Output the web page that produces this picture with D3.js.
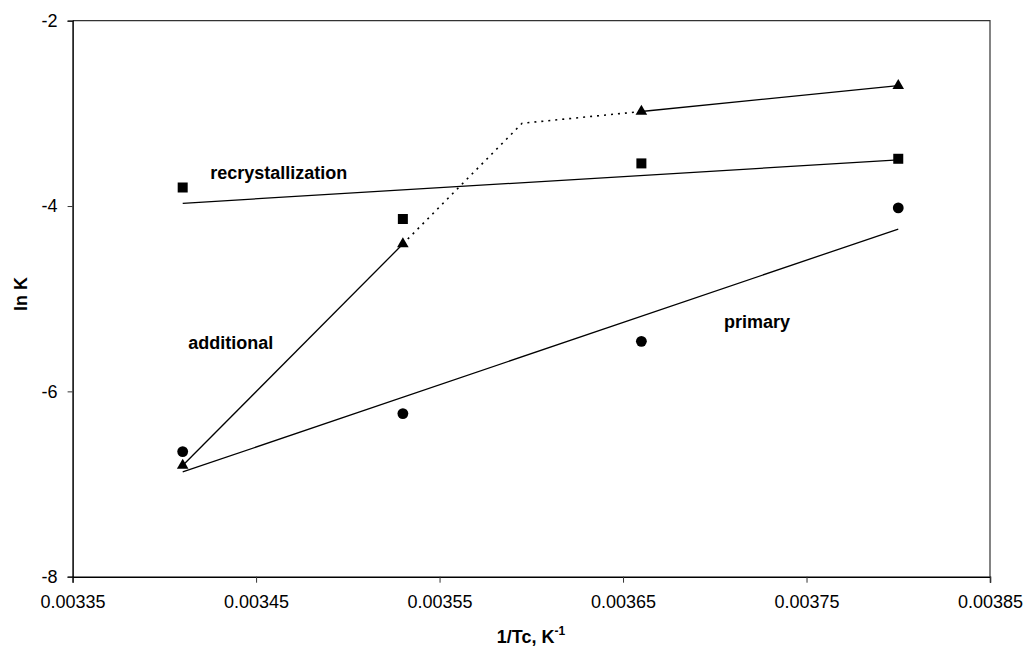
<!DOCTYPE html>
<html>
<head>
<meta charset="utf-8">
<script src="https://cdn.jsdelivr.net/npm/d3@7"></script>
<style>
  html, body { margin: 0; padding: 0; background: #fff; }
  svg { display: block; font-family: "Liberation Sans", Arial, sans-serif; }
</style>
</head>
<body>
<svg id="chart" width="1025" height="648"></svg>
<script>
// Reciprocal crystallisation temperature (1/Tc, K^-1)
const invTc = [0.00341, 0.00353, 0.00366, 0.00380];

// ln K for each crystallisation stage
const primary = [-6.65, -6.24, -5.46, -4.02];          // circles
const recrystallization = [-3.80, -4.14, -3.54, -3.49]; // squares
const additional = [-6.80, -4.41, -2.98, -2.70];        // triangles

// Hand-drawn guide through the "additional" points: solid, dotted bend, solid
const additionalSolidA = [[0.00341, -6.80], [0.00353, -4.41]];
const additionalDotted = [[0.00353, -4.41], [0.003595, -3.107], [0.00366, -2.98]];
const additionalSolidB = [[0.00366, -2.98], [0.00380, -2.70]];

const xTicks = [0.00335, 0.00345, 0.00355, 0.00365, 0.00375, 0.00385];
const yTicks = [-8, -6, -4, -2];

const labels = [
  { text: "recrystallization", x: 0.003425, y: -3.636 },
  { text: "additional", x: 0.003413, y: -5.475 },
  { text: "primary", x: 0.003705, y: -5.248 }
];

const svg = d3.select("#chart");
const plot = { left: 72.6, right: 990, top: 20.7, bottom: 576.7 };
const FONT = "'Liberation Sans', Arial, sans-serif";

const x = d3.scaleLinear().domain([0.00335, 0.00385]).range([plot.left, plot.right]);
const y = d3.scaleLinear().domain([-8, -2]).range([plot.bottom, plot.top]);

// Least-squares trend line between the first and last x
function trend(xs, ys) {
  const mx = d3.mean(xs), my = d3.mean(ys);
  const sxy = d3.sum(xs, (v, i) => (v - mx) * (ys[i] - my));
  const sxx = d3.sum(xs, v => (v - mx) * (v - mx));
  const b = sxy / sxx, a = my - b * mx;
  const x0 = d3.min(xs), x1 = d3.max(xs);
  return [[x0, a + b * x0], [x1, a + b * x1]];
}

// Plot frame (top and right edges)
svg.append("path")
  .attr("d", `M${plot.left},${plot.top}H${plot.right}V${plot.bottom}`)
  .attr("fill", "none").attr("stroke", "#333").attr("stroke-width", 1.2);

// Axes
const xAxis = d3.axisBottom(x).tickValues(xTicks)
  .tickFormat(d3.format(".5f")).tickSizeOuter(0).tickSize(6).tickPadding(13);
const gx = svg.append("g").attr("transform", `translate(0,${plot.bottom})`).call(xAxis);

const yAxis = d3.axisLeft(y).tickValues(yTicks).tickFormat(d => String(d))
  .tickSizeOuter(0).tickSize(5).tickPadding(10);
const gy = svg.append("g").attr("transform", `translate(${plot.left},0)`).call(yAxis);

[gx, gy].forEach(g => {
  g.attr("font-size", 18).attr("font-family", FONT);
  g.select(".domain").attr("stroke", "#000").attr("stroke-width", 1.5);
  g.selectAll(".tick line").attr("stroke", "#333").attr("stroke-width", 1);
  g.selectAll(".tick text").attr("fill", "#000");
});

// Axis titles
const xt = svg.append("text").attr("x", 531).attr("y", 643)
  .attr("text-anchor", "middle").attr("font-size", 18).attr("font-weight", "bold");
xt.append("tspan").text("1/Tc, K");
xt.append("tspan").attr("dy", -8).attr("font-size", 12).text("-1");

svg.append("text").attr("transform", "translate(26.5,294) rotate(-90)")
  .attr("text-anchor", "middle").attr("font-size", 18).attr("font-weight", "bold")
  .text("ln K");

const line = d3.line().x(d => x(d[0])).y(d => y(d[1]));

// Trend lines
[primary, recrystallization].forEach(ys => {
  svg.append("path").attr("d", line(trend(invTc, ys)))
    .attr("fill", "none").attr("stroke", "#000").attr("stroke-width", 1.3);
});

// Guide for "additional"
[additionalSolidA, additionalSolidB].forEach(seg => {
  svg.append("path").attr("d", line(seg))
    .attr("fill", "none").attr("stroke", "#000").attr("stroke-width", 1.3);
});
svg.append("path").attr("d", line(additionalDotted))
  .attr("fill", "none").attr("stroke", "#000").attr("stroke-width", 1.6)
  .attr("stroke-dasharray", "2,5");

// Markers
svg.append("g").selectAll("circle").data(invTc.map((v, i) => [v, primary[i]]))
  .join("circle").attr("cx", d => x(d[0])).attr("cy", d => y(d[1]))
  .attr("r", 5.4).attr("fill", "#000");

svg.append("g").selectAll("rect").data(invTc.map((v, i) => [v, recrystallization[i]]))
  .join("rect").attr("x", d => x(d[0]) - 5).attr("y", d => y(d[1]) - 5)
  .attr("width", 10).attr("height", 10).attr("fill", "#000");

const tri = d3.symbol().type(d3.symbolTriangle).size(58);
svg.append("g").selectAll("path").data(invTc.map((v, i) => [v, additional[i]]))
  .join("path").attr("d", tri)
  .attr("transform", d => `translate(${x(d[0])},${y(d[1])})`)
  .attr("fill", "#000");

// Series labels
svg.append("g").selectAll("text").data(labels).join("text")
  .attr("x", d => x(d.x)).attr("y", d => y(d.y))
  .attr("dy", "0.35em")
  .attr("font-size", 18).attr("font-weight", "bold").attr("fill", "#000")
  .text(d => d.text);
</script>
</body>
</html>
